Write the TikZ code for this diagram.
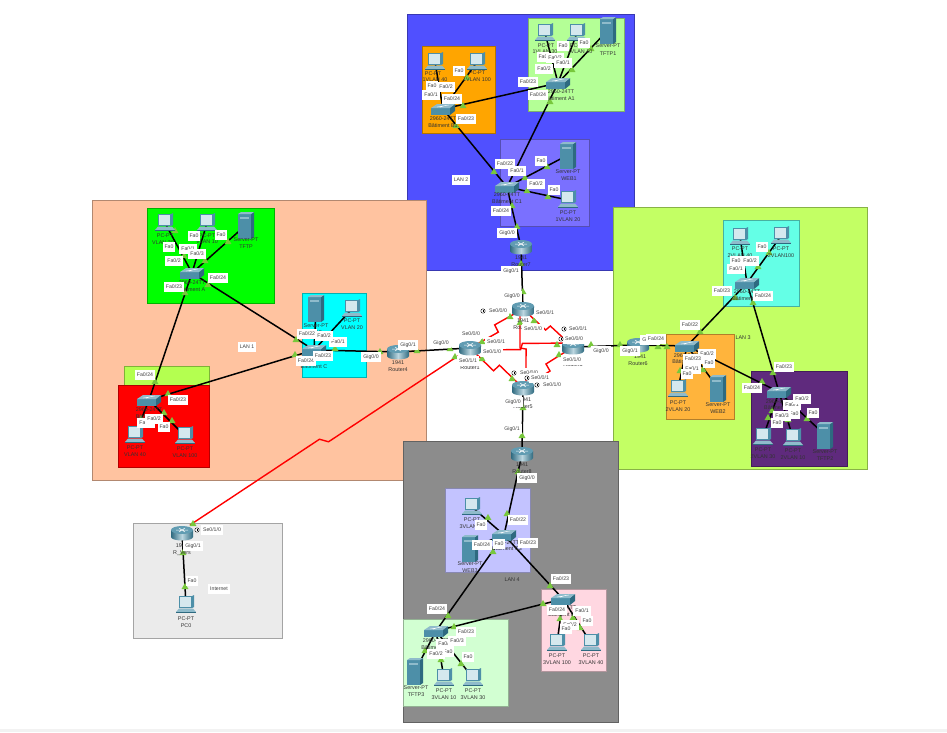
\documentclass[tikz,border=0pt]{standalone}
\usepackage{fontspec}
\setmainfont{Liberation Sans}
\usepackage{tikz}
\usetikzlibrary{calc,shapes.geometric}
\definecolor{lanone}{HTML}{FFC3A0}
\definecolor{lantwo}{HTML}{5050FF}
\definecolor{lanthree}{HTML}{C3FF64}
\definecolor{lanfour}{HTML}{8C8C8C}
\definecolor{inet}{HTML}{EBEBEB}
\definecolor{bA}{HTML}{B4FF96}
\definecolor{bB}{HTML}{FFA500}
\definecolor{bC}{HTML}{7A70FF}
\definecolor{cA}{HTML}{00FF00}
\definecolor{cB}{HTML}{FF0000}
\definecolor{cC}{HTML}{00FFFF}
\definecolor{cD}{HTML}{B4FF50}
\definecolor{dA}{HTML}{64FFE6}
\definecolor{dB}{HTML}{FFB43C}
\definecolor{dC}{HTML}{5F2A7D}
\definecolor{eA}{HTML}{C3C3FF}
\definecolor{eB}{HTML}{FFD7E1}
\definecolor{eC}{HTML}{D2FFD2}
\definecolor{lamp}{HTML}{78C83C}
\definecolor{devfront}{HTML}{4D8FA8}
\definecolor{devside}{HTML}{2E6A80}
\definecolor{devtop}{HTML}{8FBBCB}
\definecolor{screen}{HTML}{D5E8EE}
\tikzset{
  zone/.style={draw=#1!70!black,fill=#1,line width=0.8pt},
  lan/.style={black,line width=1.5pt},
  serial/.style={red,line width=1.4pt,to path={
    -- ($(\tikztostart)!.49!(\tikztotarget)!#1!-90:(\tikztotarget)$)
    -- ($(\tikztostart)!.51!(\tikztotarget)!#1!90:(\tikztotarget)$)
    -- (\tikztotarget)}},
  serial/.default=3pt,
  lampmark/.style={regular polygon,regular polygon sides=3,fill=lamp,inner sep=0pt,minimum size=8pt},
  port/.style={fill=white,text=black!75,font=\fontsize{5.2}{6}\selectfont,inner xsep=2pt,inner ysep=0pt,minimum height=10pt},
  caption/.style={text=black!80,font=\fontsize{5.4}{6}\selectfont,inner sep=0pt},
  pcicon/.pic={
    \fill[devfront] (-7,-9) -- (6,-9) -- (8,-10) -- (8,2) -- (6,3) -- (-7,3) -- cycle;
    \fill[screen] (-5.8,-7.8) rectangle (5.2,1.8);
    \fill[devtop] (-7,3.5) -- (7,3.5) -- (10,7) -- (-10,7) -- cycle;
    \fill[devside] (-10,7) rectangle (10,8);
  },
  servericon/.pic={
    \fill[devfront] (-8,-11) rectangle (5,14);
    \fill[devside] (5,-11) -- (8,-13) -- (8,12) -- (5,14) -- cycle;
    \fill[devtop] (-8,-11) -- (-5,-13) -- (8,-13) -- (5,-11) -- cycle;
    \fill[devtop] (-6,-8) rectangle (3,-6);
  },
  switchicon/.pic={
    \fill[devfront] (-12,-1) rectangle (7,6);
    \fill[devside] (7,-1) -- (12,-5) -- (12,2) -- (7,6) -- cycle;
    \fill[devtop] (-12,-1) -- (-6,-5) -- (12,-5) -- (7,-1) -- cycle;
    \draw[white,line width=0.3pt] (-6,-2) -- (6,-4) (-3,-1.8) -- (3,-3.8);
  },
  routericon/.pic={
    \path[left color=devside,right color=devside,middle color=devtop!60!white]
      (-11,-3) -- (-11,4) arc[x radius=11,y radius=3.5,start angle=180,end angle=0] -- (11,-3) -- cycle;
    \fill[devfront!70!devtop] (0,-3) ellipse [x radius=11,y radius=4];
    \draw[white,line width=0.5pt] (-6,-3) -- (6,-3) (-3,-5) -- (3,-1) (3,-5) -- (-3,-1);
  },
  clockmark/.pic={
    \draw[black,fill=white,line width=0.4pt] (0,0) circle (2.2);
    \draw[black,line width=0.4pt] (0,-1.5) -- (0,0) -- (1.2,0);
  }
}
\begin{document}
\begin{tikzpicture}[x=1pt,y=-1pt]
  \useasboundingbox (0,0) rectangle (947,732);
  \fill[black!5] (0,729) rectangle (947,732);

  % LAN zones
  \draw[zone=lantwo] (407,14) rectangle (634,270);
  \draw[zone=lanone] (92,200) rectangle (426,480);
  \draw[zone=lanthree] (613,207) rectangle (867,469);
  \draw[zone=lanfour] (403,441) rectangle (618,722);
  \draw[zone=inet] (133,523) rectangle (282,638);

  % Buildings
  \draw[zone=bA] (528,18) rectangle (624,111);
  \draw[zone=bB] (422,46) rectangle (495,133);
  \draw[zone=bC] (500,139) rectangle (589,226);
  \draw[zone=cA] (147,208) rectangle (274,303);
  \draw[zone=cC] (302,293) rectangle (366,377);
  \draw[zone=cD] (124,366) rectangle (209,385);
  \draw[zone=cB] (118,385) rectangle (209,467);
  \draw[zone=dA] (723,220) rectangle (799,306);
  \draw[zone=dB] (666,334) rectangle (734,419);
  \draw[zone=dC] (751,371) rectangle (847,466);
  \draw[zone=eA] (445,488) rectangle (530,572);
  \draw[zone=eB] (541,589) rectangle (606,671);
  \draw[zone=eC] (403,619) rectangle (508,706);

  % Device positions
  \foreach \nm/\x/\y in {
    pcba/545/33,pcbb/577/33,pcca/435/62,pccb/477/62,pcda/568/200,
    pcea/165/223,pceb/207/223,pcfa/352/309,pcga/135/435,pcgb/185/436,
    pcha/740/237,pchb/781/236,pcia/678/389,pcja/763/437,pcjb/793/438,
    pcka/472/507,pcla/557/643,pclb/591/643,pcma/444/678,pcmb/473/678,pcint/186/605,
    srvb/608/30,srvc/568/155,srve/246/225,srvf/316/308,srvi/718/388,srvj/825/435,srvk/470/548,srvm/415/671,
    swab/558/83,swbb/443/109,swcb/507/187,swaa/192/273,swca/314/350,swba/149/400,
    swad/747/283,swbd/687/346,swcd/779/392,swae/504/535,swbe/563/599,swce/436/631,
    rseven/521/247,rfour/398/352,rone/470/348,rtwo/523/309,rthree/573/347,rfive/523/388,
    rsix/638/345,reight/522/454,rvers/182/533,
    roneE/470/350,rthreeW/573/343,rtwoS/520/309,rfiveN/526/388,roneS/458/356,rversN/190/525} {
    \coordinate (\nm) at (\x,\y);
  }

  % Ethernet links
  \foreach \a/\b in {
    swab/pcba,swab/pcbb,swab/srvb,swbb/pcca,swbb/pccb,swbb/swab,swbb/swcb,swab/swcb,
    swcb/srvc,swcb/pcda,swcb/rseven,rseven/rtwo,
    swaa/pcea,swaa/pceb,swaa/srve,swaa/swba,swaa/swca,swba/swca,swba/pcga,swba/pcgb,
    swca/srvf,swca/pcfa,swca/rfour,rfour/rone,
    rthree/rsix,rsix/swbd,swbd/swad,swad/swcd,swbd/swcd,swad/pcha,swad/pchb,
    swbd/pcia,swbd/srvi,swcd/pcja,swcd/pcjb,swcd/srvj,
    rfive/reight,reight/swae,swae/pcka,swae/srvk,swae/swbe,swae/swce,swce/swbe,
    swbe/pcla,swbe/pclb,swce/srvm,swce/pcma,swce/pcmb,rvers/pcint} {
    \draw[lan] (\a) -- (\b);
  }

  % Serial links
  \draw[serial=4pt] (rone) to (rtwo);
  \draw[serial=3pt] (rtwo) to (rthree);
  \draw[serial=3pt] (roneE) to (rthreeW);
  \draw[serial=3pt] (rtwoS) to (rfiveN);
  \draw[serial=4pt] (rone) to (rfive);
  \draw[serial=4pt] (rthree) to (rfive);
  \draw[serial=-3.5pt] (roneS) to (rversN);

  % Link lights
  \foreach \x/\y [count=\i] in {
    463/106,550/102,572/70,591/49,456/126,467/78,494/172,525/178,527/191,547/167,548/197,512/206,
    517/227,521/264,175/231,228/242,205/261,208/285,185/293,296/340,184/256,155/382,168/394,295/355,
    335/349,380/352,417/351,141/419,164/413,172/421,450/349,455/357,482/342,482/359,510/317,534/321,
    512/379,520/323,557/345,559/355,591/345,620/345,523/408,522/436,523/292,769/253,758/267,735/298,
    753/303,700/332,658/347,667/347,773/373,762/382,680/371,703/370,772/411,768/418,788/420,807/419,
    518/472,507/514,488/518,493/552,550/586,448/616,543/604,454/627,573/618,560/619,580/628,425/651,
    441/660,461/664,193/524,183/553,185/587} {
    \node[lampmark] (lamp\i) at (\x,\y) {};
  }

  % Devices
  \foreach \nm in {pcba,pcbb,pcca,pccb,pcda,pcea,pceb,pcfa,pcga,pcgb,pcha,pchb,pcia,pcja,pcjb,pcka,pcla,pclb,pcma,pcmb,pcint} {
    \pic at (\nm) {pcicon};
  }
  \foreach \nm in {srvb,srvc,srve,srvf,srvi,srvj,srvk,srvm} {
    \pic at (\nm) {servericon};
  }
  \foreach \nm in {swab,swbb,swcb,swaa,swca,swba,swad,swbd,swcd,swae,swbe,swce} {
    \pic at (\nm) {switchicon};
  }
  \foreach \nm in {rseven,rfour,rone,rtwo,rthree,rfive,rsix,reight,rvers} {
    \pic at (\nm) {routericon};
  }

  % Device captions
  \foreach \x/\y/\lbl [count=\i] in {
    546/46/PC-PT,545/52/1VLAN 30,578/46/PC-PT,580/52/1VLAN 10,608/46/Server-PT,608/54/TFTP1,
    561/92/2960-24TT,560/99/B\^atiment A1,433/74/PC-PT,435/80/1VLAN 40,477/73/PC-PT,477/80/1VLAN 100,
    443/119/2960-24TT,443/126/B\^atiment B1,568/172/Server-PT,569/179/WEB1,568/213/PC-PT,568/220/1VLAN 20,
    507/195/2960-24TT,507/202/B\^atiment C1,521/258/1941,521/265/Router7,
    165/236/PC-PT,163/243/VLAN 30,207/236/PC-PT,207/242/VLAN 10,246/240/Server-PT,246/247/TFTP,
    192/283/2960-24TT,192/290/B\^atiment A,316/326/Server-PT,316/333/WEB,352/321/PC-PT,352/328/VLAN 20,
    314/360/2960-24TT,314/367/B\^atiment C,398/363/1941,398/370/Router4,
    149/410/2960-24TT,149/417/B\^atiment B,135/448/PC-PT,135/455/VLAN 40,185/449/PC-PT,185/456/VLAN 100,
    470/360/1941,470/368/Router1,523/321/1941,523/328/Router2,573/358/1941,573/365/Router3,
    525/400/1941,523/407/Router5,640/357/1941,638/364/Router6,
    740/249/PC-PT,740/256/2VLAN 40,781/249/PC-PT,781/256/2VLAN100,747/292/2960-24TT,747/299/B\^atiment A2,
    687/356/2960-24TT,687/362/B\^atiment B2,678/403/PC-PT,678/410/2VLAN 20,718/405/Server-PT,718/412/WEB2,
    779/402/2960-24TT,779/408/B\^atiment C2,763/450/PC-PT,763/457/2VLAN 30,793/451/PC-PT,793/458/2VLAN 10,
    825/452/Server-PT,825/459/TFTP2,522/465/1941,522/472/Router8,
    472/520/PC-PT,472/527/3VLAN 20,470/564/Server-PT,470/571/WEB3,506/543/2960-24TT,507/549/B\^atiment C3,
    563/608/2960-24TT,563/615/B\^atiment B3,557/656/PC-PT,557/663/3VLAN 100,591/656/PC-PT,591/663/3VLAN 40,
    436/641/2960-24TT,436/648/B\^atiment A3,416/688/Server-PT,416/695/TFTP3,444/691/PC-PT,444/698/3VLAN 10,
    473/691/PC-PT,473/698/3VLAN 30,182/546/1941,182/553/R\_Vers,186/619/PC-PT,186/626/PC0,
    743/338/LAN 3,512/580/LAN 4} {
    \node[caption] (cap\i) at (\x,\y) {\lbl};
  }

  % Port labels
  \foreach \x/\y/\lbl [count=\i] in {
    459/71/{Fa0},432/86/{Fa0},446/87/{Fa0/2},431/95/{Fa0/1},452/99/{Fa0/24},466/119/{Fa0/23},
    528/82/{Fa0/23},538/95/{Fa0/24},563/46/{Fa0},584/43/{Fa0},543/57/{Fa0},555/58/{Fa0/2},563/63/{Fa0/1},544/69/{Fa0/2},
    505/164/{Fa0/22},517/171/{Fa0/1},541/161/{Fa0},536/184/{Fa0/2},554/190/{Fa0},501/211/{Fa0/24},507/233/{Gig0/0},511/271/{Gig0/1},
    461/180/{LAN 2},
    194/236/{Fa0},221/235/{Fa0},169/247/{Fa0},188/249/{Fa0/1},197/254/{Fa0/3},174/261/{Fa0/2},174/287/{Fa0/23},218/278/{Fa0/24},
    307/334/{Fa0/22},338/342/{Fa0/1},324/336/{Fa0/2},247/347/{LAN 1},306/361/{Fa0/24},323/356/{Fa0/23},371/357/{Gig0/0},408/345/{Gig0/1},
    145/375/{Fa0/24},178/400/{Fa0/23},146/423/{Fa0/1},154/419/{Fa0/2},164/427/{Fa0},
    512/296/{Gig0/0},498/311/{Se0/0/0},545/313/{Se0/0/1},533/329/{Se0/1/0},471/334/{Se0/0/0},496/342/{Se0/0/1},
    492/352/{Se0/1/0},468/361/{Se0/1/1},441/343/{Gig0/0},578/329/{Se0/0/1},574/339/{Se0/0/0},601/351/{Gig0/0},
    650/340/{Gig0/0},630/351/{Gig0/1},572/360/{Se0/1/0},529/373/{Se0/0/0},540/378/{Se0/0/1},552/385/{Se0/1/0},
    513/402/{Gig0/0},512/429/{Gig0/1},
    736/261/{Fa0},750/261/{Fa0/2},736/269/{Fa0/1},762/247/{Fa0},722/291/{Fa0/23},763/296/{Fa0/24},690/325/{Fa0/22},656/339/{Fa0/24},
    707/354/{Fa0/2},692/369/{Fa0/1},693/359/{Fa0/23},709/363/{Fa0},687/374/{Fa0},784/367/{Fa0/23},752/388/{Fa0/24},
    792/405/{Fa0/1},802/399/{Fa0/2},794/414/{Fa0},813/413/{Fa0},782/416/{Fa0/3},777/423/{Fa0},
    527/478/{Gig0/0},518/520/{Fa0/22},481/525/{Fa0},482/545/{Fa0/24},499/544/{Fa0},528/543/{Fa0/23},561/579/{Fa0/23},
    437/609/{Fa0/24},466/632/{Fa0/23},445/644/{Fa0/1},457/641/{Fa0/3},448/652/{Fa0},468/657/{Fa0},436/654/{Fa0/2},
    557/610/{Fa0/24},582/611/{Fa0/1},587/621/{Fa0},570/625/{Fa0/2},566/629/{Fa0},
    212/530/{Se0/1/0},193/546/{Gig0/1},192/581/{Fa0},219/589/{Internet}} {
    \node[port] (port\i) at (\x,\y) {\lbl};
  }

  % Clock marks
  \foreach \x/\y in {483/311,564/329,561/339,514/373,527/378,537/385,197/530} {
    \pic at (\x,\y) {clockmark};
  }
\end{tikzpicture}
\end{document}
